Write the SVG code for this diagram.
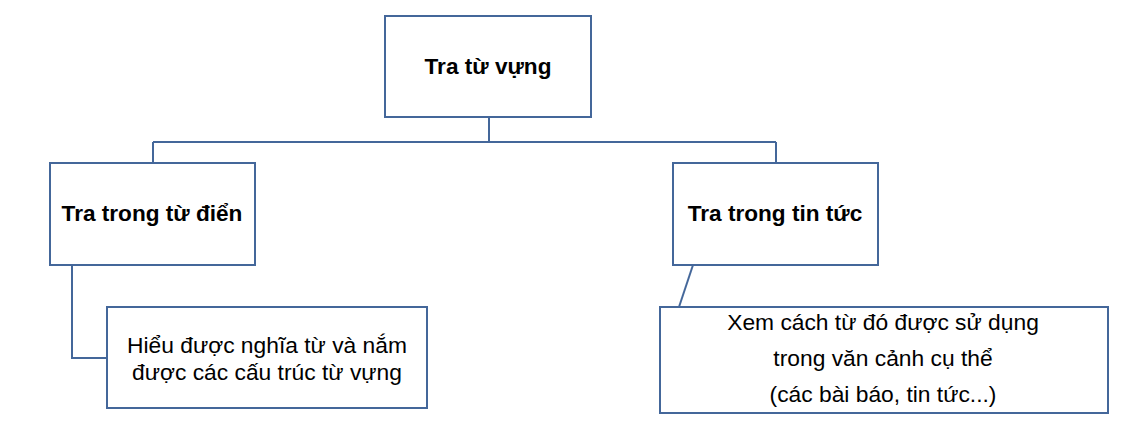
<svg xmlns="http://www.w3.org/2000/svg" width="1148" height="426" viewBox="0 0 1148 426">
<style>
.box{fill:#fff;stroke:#44679a;stroke-width:2}
.conn{fill:none;stroke:#44679a;stroke-width:2}
.b{font-family:"Liberation Sans",Arial,sans-serif;font-weight:bold;font-size:22.6px;fill:#000;text-anchor:middle}
.r{font-family:"Liberation Sans",Arial,sans-serif;font-size:22.8px;fill:#000;text-anchor:middle}
</style>
<rect width="1148" height="426" fill="#fff"/>
<g id="connectors">
<path class="conn" d="M489 117 V142 M153 142 H776 M153 142 V163 M776 142 V163"/>
<path class="conn" d="M72 265 V358 H107"/>
<path class="conn" d="M693 265 L679 307"/>
</g>
<g id="root">
<rect class="box" x="385" y="16" width="206" height="101"/>
<text class="b" x="488" y="74">Tra từ vựng</text>
</g>
<g id="dict">
<rect class="box" x="50" y="163" width="205" height="102"/>
<text class="b" x="152" y="221">Tra trong từ điển</text>
</g>
<g id="news">
<rect class="box" x="673" y="163" width="205" height="102"/>
<text class="b" x="775" y="221">Tra trong tin tức</text>
</g>
<g id="dict-desc">
<rect class="box" x="107" y="307" width="320" height="101"/>
<text class="r" x="267" y="353">Hiểu được nghĩa từ và nắm</text>
<text class="r" x="267" y="380">được các cấu trúc từ vựng</text>
</g>
<g id="news-desc">
<rect class="box" x="660" y="307" width="448" height="106"/>
<text class="r" x="883" y="330">Xem cách từ đó được sử dụng</text>
<text class="r" x="883" y="366">trong văn cảnh cụ thể</text>
<text class="r" x="883" y="402">(các bài báo, tin tức...)</text>
</g>
</svg>
